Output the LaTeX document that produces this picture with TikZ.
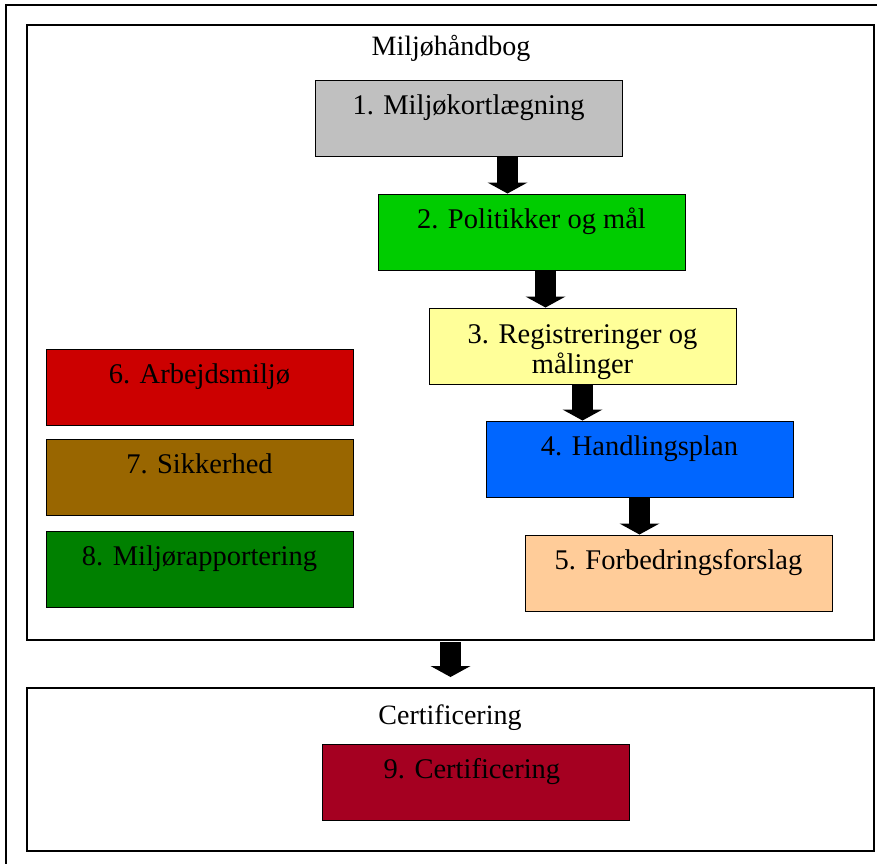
\documentclass[tikz,border=0pt]{standalone}
\usepackage{fontspec}
\setmainfont{Liberation Serif}
\usetikzlibrary{positioning,arrows.meta}

\definecolor{boxgray}{HTML}{C0C0C0}
\definecolor{boxgreen}{HTML}{00CC00}
\definecolor{boxyellow}{HTML}{FFFF99}
\definecolor{boxblue}{HTML}{0066FF}
\definecolor{boxpeach}{HTML}{FFCC99}
\definecolor{boxred}{HTML}{CC0000}
\definecolor{boxbrown}{HTML}{996600}
\definecolor{boxdarkgreen}{HTML}{008000}
\definecolor{boxcrimson}{HTML}{A50021}

\begin{document}
\begin{tikzpicture}[x=1pt, y=-1pt,
  stepbox/.style={draw=black, line width=1pt, inner sep=0pt,
    minimum width=307pt, minimum height=76pt,
    text height=34pt, text depth=42pt, align=center,
    font=\fontsize{28.5}{30}\selectfont},
  twoline/.style={text height=65pt, text depth=11pt},
  frame/.style={draw=black, line width=2pt},
  title/.style={anchor=base, font=\fontsize{28}{30}\selectfont},
  blockarrow/.style={line width=21pt,
    -{Triangle[width=40pt,length=11pt,line width=0pt]}}]

\useasboundingbox (0,0) rectangle (877,863);

% Outer and inner frames
\draw[line width=1.2pt] (6,5) rectangle (900,900);
\node[frame, minimum width=847pt, minimum height=615pt, inner sep=0pt] (handbook) at (450.5,332.5) {};
\node[frame, minimum width=847pt, minimum height=163pt, inner sep=0pt] (certframe) at (450.5,769.5) {};

% Frame titles
\node[title] (handbooktitle) at (451,55) {Miljøhåndbog};
\node[title] (certtitle) at (450,724) {Certificering};

% Boxes
\foreach \name/\x/\y/\col/\opt/\txt in {
    b1/468.5/118/boxgray//{1. Miljøkortlægning},
    b2/531.5/232/boxgreen//{2. Politikker og mål},
    b3/582.5/346/boxyellow/twoline/{3. Registreringer og\\målinger},
    b4/639.5/459/boxblue//{4. Handlingsplan},
    b5/678.5/573/boxpeach//{5. Forbedringsforslag},
    b6/199.5/387.5/boxred//{6. Arbejdsmiljø},
    b7/199.5/477.5/boxbrown//{7. Sikkerhed},
    b8/199.5/569/boxdarkgreen//{8. Miljørapportering},
    b9/475.5/782/boxcrimson//{9. Certificering}
  }
{
  \node[stepbox, fill=\col, \opt] (\name) at (\x,\y) {\txt};
}

% Block arrows between steps
\draw[blockarrow] ([xshift=39pt]b1.south) -- ([xshift=39pt]b1.south |- b2.north);
\draw[blockarrow] ([xshift=14pt]b2.south) -- ([xshift=14pt]b2.south |- b3.north);
\draw[blockarrow] (b3.south) -- (b3.south |- b4.north);
\draw[blockarrow] (b4.south) -- (b4.south |- b5.north);
\draw[blockarrow] ([yshift=-1pt]handbook.south) -- ([yshift=10pt]certframe.north);

\end{tikzpicture}
\end{document}
